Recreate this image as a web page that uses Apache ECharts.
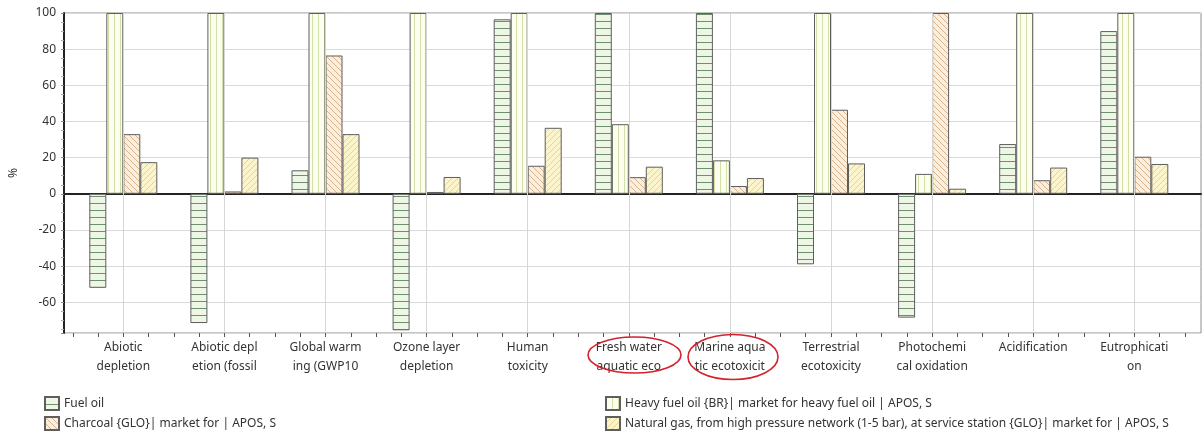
<!DOCTYPE html>
<html>
<head>
<meta charset="utf-8">
<script src="https://cdn.jsdelivr.net/npm/echarts@6/dist/echarts.min.js"></script>
<style>
  html, body { margin: 0; padding: 0; background: #fff; }
  #chart { width: 1203px; height: 432px; }
</style>
</head>
<body>
<div id="chart"></div>
<script>
// impact categories (labels wrapped the way the source tool cut them)
var categories = [
    'Abiotic\ndepletion', 'Abiotic depl\netion (fossil', 'Global warm\ning (GWP10',
    'Ozone layer\ndepletion', 'Human\ntoxicity', 'Fresh water\naquatic eco',
    'Marine aqua\ntic ecotoxicit', 'Terrestrial\necotoxicity', 'Photochemi\ncal oxidation',
    'Acidification', 'Eutrophicati\non'
];
var seriesNames = [
    'Fuel oil',
    'Heavy fuel oil {BR}| market for heavy fuel oil | APOS, S',
    'Charcoal {GLO}| market for | APOS, S',
    'Natural gas, from high pressure network (1-5 bar), at service station {GLO}| market for | APOS, S'
];
// % values
var fuelOil  = [-52, -71.5, 13, -75.5, 96.5, 100, 100, -39, -68.5, 27.5, 90];
var heavyOil = [100, 100, 100, 100, 100, 38.5, 18.5, 100, 11, 100, 100];
var charcoal = [33, 1.3, 76.5, 1, 15.5, 9.2, 4.3, 46.5, 100, 7.5, 20.5];
var natGas   = [17.5, 20, 33, 9.3, 36.5, 15, 8.7, 16.8, 2.8, 14.5, 16.5];

var yMin = -77, yMax = 100;
var font = 'Noto Sans';

// hatch patterns
function pattern(kind, bg, fg) {
    var s = kind == 'h' ? 7 : 6;
    var c = document.createElement('canvas');
    c.width = s; c.height = s;
    var ctx = c.getContext('2d');
    ctx.fillStyle = bg;
    ctx.fillRect(0, 0, s, s);
    ctx.strokeStyle = fg;
    ctx.lineWidth = 1;
    ctx.beginPath();
    if (kind == 'h') {
        ctx.moveTo(0, 0.5); ctx.lineTo(s, 0.5);
    } else if (kind == 'v') {
        ctx.moveTo(0.5, 0); ctx.lineTo(0.5, s);
    } else {
        [-s, 0, s].forEach(function (k) {
            if (kind == 'b') { ctx.moveTo(k, 0); ctx.lineTo(k + s, s); }
            else { ctx.moveTo(k, s); ctx.lineTo(k + s, 0); }
        });
    }
    ctx.stroke();
    return { image: c, repeat: 'repeat' };
}

var fills = [
    pattern('h', '#eef7e6', '#6f906f'),
    pattern('v', '#fdfdf0', '#cfe0a8'),
    pattern('b', '#fbeedc', '#d8b48e'),
    pattern('f', '#fcf5cc', '#e5d58e')
];
var values = [fuelOil, heavyOil, charcoal, natGas];

var series = values.map(function (d, i) {
    return {
        name: seriesNames[i],
        type: 'bar',
        xAxisIndex: 1,
        yAxisIndex: 1,
        barWidth: 17,
        barGap: '0%',
        data: d,
        itemStyle: { color: fills[i], borderColor: '#5e5e5e', borderWidth: 1 }
    };
});
// vertical grid lines through the category centres
series.unshift({
    type: 'line',
    xAxisIndex: 1,
    yAxisIndex: 1,
    data: [],
    z: 1,
    markLine: {
        silent: true,
        symbol: 'none',
        label: { show: false },
        lineStyle: { color: '#d6d6d6', type: 'solid', width: 1 },
        data: categories.map(function (c) { return { xAxis: c }; })
    }
});

var myChart = echarts.init(document.getElementById('chart'));
var option = {
    animation: false,
    textStyle: { fontFamily: font },
    grid: [
        { left: 56, right: 2, top: 13, bottom: 99, show: true, borderColor: '#8c8c8c', borderWidth: 1 },
        { left: 72.75, right: 18.15, top: 13, bottom: 99 }
    ],
    xAxis: [
        { type: 'value', gridIndex: 0, min: 0, max: 1,
          axisLine: { show: true, lineStyle: { color: '#222', width: 2 } },
          axisTick: { show: false }, axisLabel: { show: false }, splitLine: { show: false } },
        { type: 'category', gridIndex: 1, data: categories, position: 'bottom',
          axisLine: { show: false }, axisTick: { show: false }, splitLine: { show: false },
          axisLabel: { interval: 0, margin: 5, lineHeight: 19, fontSize: 12, color: '#333', fontFamily: font } },
        { type: 'value', gridIndex: 1, min: 0, max: 11, interval: 0.25, position: 'bottom',
          axisLine: { show: false }, axisLabel: { show: false }, splitLine: { show: false },
          axisTick: { show: true, length: 4, lineStyle: { color: '#555' } } }
    ],
    yAxis: [
        { type: 'value', gridIndex: 0, min: yMin, max: yMax, splitNumber: 9, minInterval: 20, maxInterval: 20,
          name: '%', nameLocation: 'middle', nameGap: 44, nameRotate: 90,
          nameTextStyle: { fontSize: 12, color: '#333', fontFamily: font },
          axisLine: { show: true, lineStyle: { color: '#222', width: 2 } },
          axisTick: { show: true, length: 3, lineStyle: { color: '#888' } },
          minorTick: { show: true, splitNumber: 4, length: 3, lineStyle: { color: '#aaa' } },
          axisLabel: { showMinLabel: false, margin: 8, fontSize: 12, color: '#333', fontFamily: font },
          splitLine: { show: true, lineStyle: { color: '#dadada', width: 1 } } },
        { type: 'value', gridIndex: 1, min: yMin, max: yMax, show: false, splitLine: { show: false } }
    ],
    legend: [
        { left: 44, top: 396, orient: 'vertical', padding: 0, itemGap: 5, itemWidth: 14, itemHeight: 13,
          icon: 'rect', selectedMode: false, data: [seriesNames[0], seriesNames[2]],
          textStyle: { fontSize: 12, color: '#333', fontFamily: font } },
        { left: 605, top: 396, orient: 'vertical', padding: 0, itemGap: 5, itemWidth: 14, itemHeight: 13,
          icon: 'rect', selectedMode: false, data: [seriesNames[1], seriesNames[3]],
          textStyle: { fontSize: 12, color: '#333', fontFamily: font } }
    ],
    // red hand-drawn highlight rings from the source picture
    graphic: [
        { type: 'ellipse', shape: { cx: 634.5, cy: 355, rx: 46.5, ry: 18 },
          style: { fill: null, stroke: '#d3222c', lineWidth: 1.6 }, z: 100 },
        { type: 'ellipse', shape: { cx: 733, cy: 357, rx: 45, ry: 22.5 },
          style: { fill: null, stroke: '#d3222c', lineWidth: 1.6 }, z: 100 }
    ],
    series: series
};
myChart.setOption(option);
</script>
</body>
</html>
